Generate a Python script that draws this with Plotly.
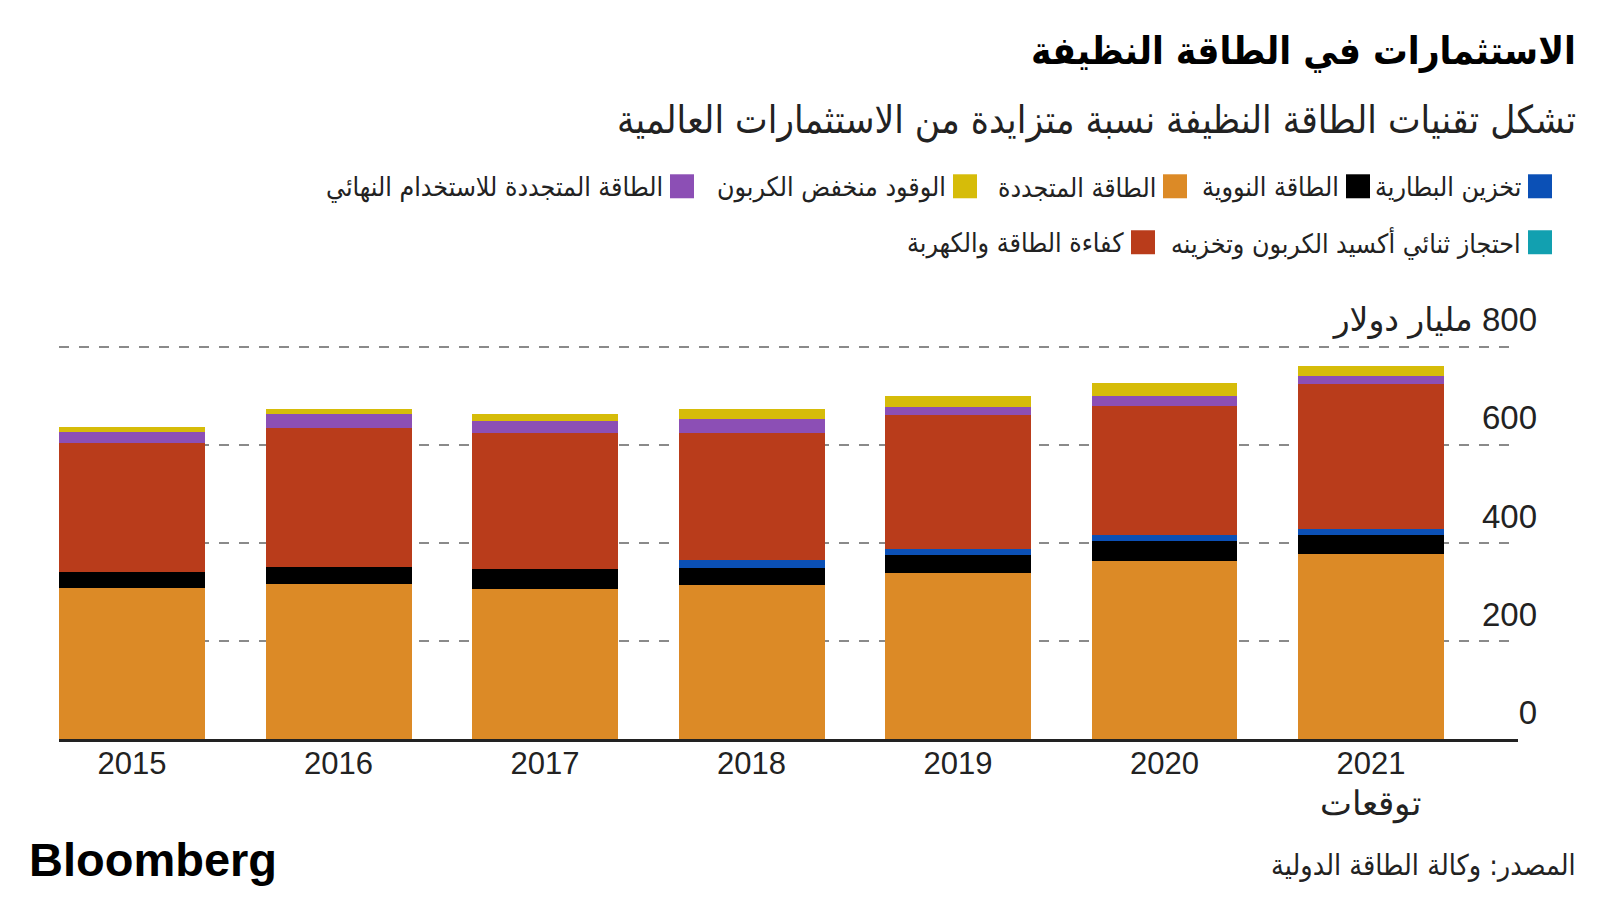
import plotly.graph_objects as go

# ---- data (billion USD) ----
years = ["2015", "2016", "2017", "2018", "2019", "2020", "2021"]
year_labels = ["2015", "2016", "2017", "2018", "2019", "2020",
               "2021<br><span style='font-size:34px'>توقعات</span>"]

renewables = [308, 317, 306, 315, 338, 364, 377]          # الطاقة المتجددة
nuclear = [33, 33, 41, 33, 37, 40, 39]                     # الطاقة النووية
battery = [0, 0, 0, 17, 12, 13, 13]                        # تخزين البطارية
efficiency = [263, 285, 277, 260, 275, 262, 296]           # كفاءة الطاقة والكهربة
ccus = [0, 0, 0, 0, 0, 0, 0]                               # احتجاز ثنائي أكسيد الكربون وتخزينه
enduse_renew = [22, 28, 24, 28, 16, 20, 16]                # الطاقة المتجددة للاستخدام النهائي
lowcarbon_fuels = [10, 10, 16, 20, 21, 27, 20]             # الوقود منخفض الكربون

y_tickvals = [0, 200, 400, 600, 800]
y_ticktext = ["0", "200", "400", "600", "مليار دولار\u200e 800"]

series = [
    ("الطاقة المتجددة", renewables, "#DC8A26"),
    ("الطاقة النووية", nuclear, "#000000"),
    ("تخزين البطارية", battery, "#0B50B6"),
    ("كفاءة الطاقة والكهربة", efficiency, "#B93C1B"),
    ("احتجاز ثنائي أكسيد الكربون وتخزينه", ccus, "#12A0B0"),
    ("الطاقة المتجددة للاستخدام النهائي", enduse_renew, "#8C4FB5"),
    ("الوقود منخفض الكربون", lowcarbon_fuels, "#D6BC09"),
]
colors = {name: c for name, _, c in series}

# ---- layout geometry (pixels) ----
W, H = 1600, 900
L, R, T, B = 59, 1518, 341.8, 739


def px_x(x):
    return (x - L) / (R - L)


def px_y(y):
    return (B - y) / (B - T)


AR_FONT = "DejaVu Sans Condensed, DejaVu Sans, sans-serif"
NUM_FONT = "Liberation Sans, Arial, sans-serif"

fig = go.Figure()
for name, vals, col in series:
    fig.add_trace(go.Bar(
        x=years, y=vals, name=name, width=0.707,
        marker=dict(color=col, line=dict(width=0)),
        showlegend=False,
    ))

fig.update_layout(
    width=W, height=H,
    barmode="stack",
    paper_bgcolor="white", plot_bgcolor="white",
    margin=dict(l=L, r=W - R, t=T, b=H - B, pad=0),
    xaxis=dict(
        type="category", range=[-0.354, 6.712],
        tickvals=years, ticktext=year_labels,
        showgrid=False, showline=True, linecolor="#222222", linewidth=3,
        ticks="", ticklabelstandoff=-5,
        tickfont=dict(family=NUM_FONT, size=31, color="#222222"),
        fixedrange=True,
    ),
    yaxis=dict(
        range=[0, 810], side="right",
        tickvals=y_tickvals, ticktext=y_ticktext,
        showgrid=True, gridcolor="#8a8a8a", gridwidth=1.5, griddash="10px,10px",
        zeroline=False, showline=False, ticks="",
        ticklabelposition="inside", ticklabelstandoff=-22, ticklabelshift=-27,
        ticklabeloverflow="allow",
        tickfont=dict(family=NUM_FONT + ", DejaVu Sans", size=33, color="#222222"),
        fixedrange=True,
    ),
)

annotations = []
shapes = []

# Title & subtitle
annotations.append(dict(
    text="<b>الاستثمارات في الطاقة النظيفة</b>", x=px_x(1578), y=px_y(50),
    xref="paper", yref="paper", xanchor="right", yanchor="middle", showarrow=False,
    font=dict(family=AR_FONT, size=38.5, color="#000000"),
))
annotations.append(dict(
    text="تشكل تقنيات الطاقة النظيفة نسبة متزايدة من الاستثمارات العالمية",
    x=px_x(1578), y=px_y(120),
    xref="paper", yref="paper", xanchor="right", yanchor="middle", showarrow=False,
    font=dict(family=AR_FONT, size=38.5, color="#222222"),
))

# Custom right-to-left legend: (series name, square left px, row center y px)
legend_items = [
    ("تخزين البطارية", 1528, 186),
    ("الطاقة النووية", 1346, 186),
    ("الطاقة المتجددة", 1163, 186),
    ("الوقود منخفض الكربون", 953, 186),
    ("الطاقة المتجددة للاستخدام النهائي", 670, 186),
    ("احتجاز ثنائي أكسيد الكربون وتخزينه", 1528, 242),
    ("كفاءة الطاقة والكهربة", 1131, 242),
]
SQ = 24
for name, sx, cy in legend_items:
    shapes.append(dict(
        type="rect", xref="paper", yref="paper",
        x0=px_x(sx), x1=px_x(sx + SQ), y0=px_y(cy + SQ / 2), y1=px_y(cy - SQ / 2),
        fillcolor=colors[name], line=dict(width=0),
    ))
    annotations.append(dict(
        text=name, x=px_x(sx - 5), y=px_y(cy + 1),
        xref="paper", yref="paper", xanchor="right", yanchor="middle", showarrow=False,
        font=dict(family=AR_FONT, size=26.5, color="#222222"),
    ))

# Footer
annotations.append(dict(
    text="<b>Bloomberg</b>", x=px_x(27), y=px_y(860),
    xref="paper", yref="paper", xanchor="left", yanchor="middle", showarrow=False,
    font=dict(family=NUM_FONT, size=47, color="#000000"),
))
annotations.append(dict(
    text="المصدر: وكالة الطاقة الدولية", x=px_x(1578), y=px_y(866),
    xref="paper", yref="paper", xanchor="right", yanchor="middle", showarrow=False,
    font=dict(family=AR_FONT, size=28.5, color="#222222"),
))

fig.update_layout(annotations=annotations, shapes=shapes)
fig.write_html("out.html")
